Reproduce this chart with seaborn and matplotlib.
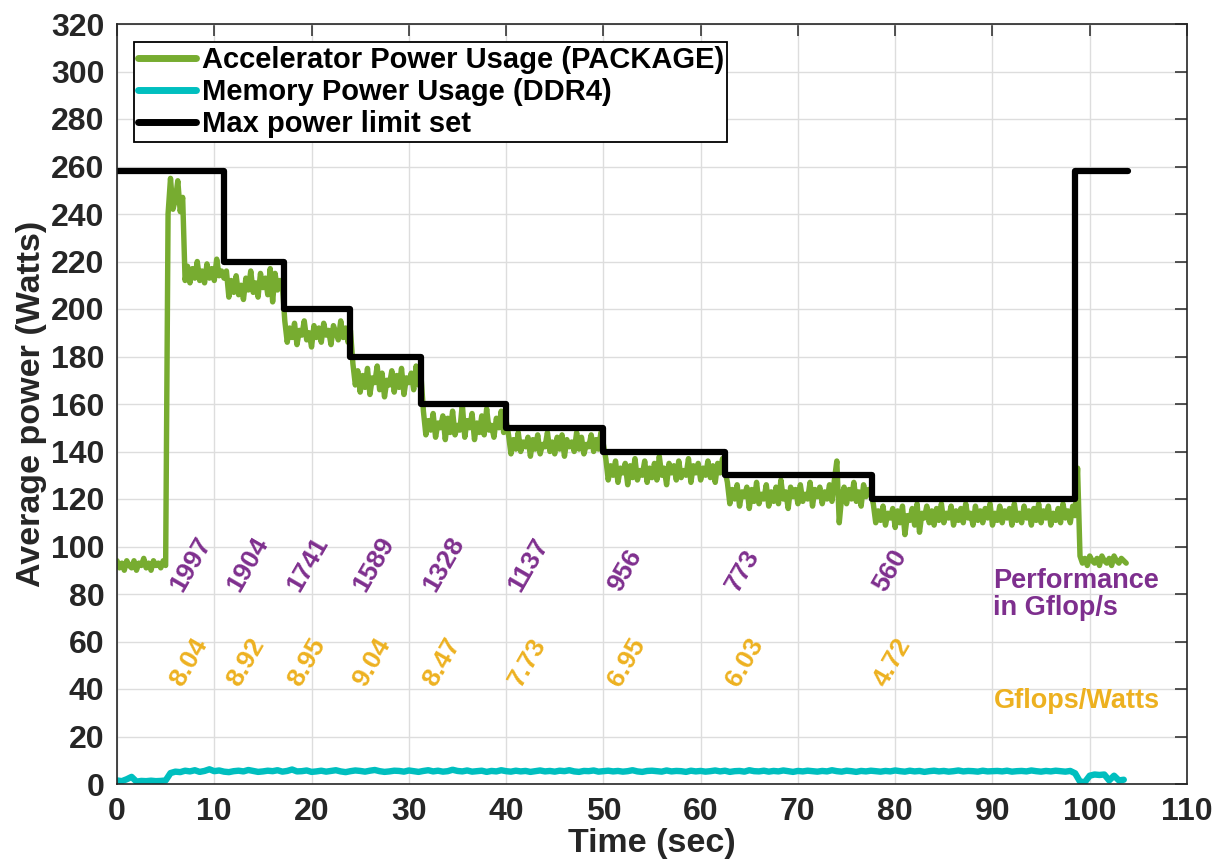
import numpy as np
import pandas as pd
import matplotlib
matplotlib.use("Agg")
import matplotlib.pyplot as plt
from matplotlib.font_manager import FontProperties
import seaborn as sns

# ---------------- data ----------------
# Accelerator package power, sampled every 0.25 s (segments follow the power-limit steps)
acc_idle = [94, 91, 93, 90, 94, 92, 91, 94, 90, 93,
            92, 95, 91, 93, 90, 94, 92, 93, 91, 94, 92]
acc_boost = [240, 255, 242, 246, 254, 241, 247]
acc_258 = [212, 218, 211, 217, 213, 220, 212, 216, 211, 219,
           213, 217, 212, 221, 214, 216, 213]
acc_220 = [216, 205, 212, 207, 214, 206, 210, 204, 213, 208,
           216, 207, 211, 205, 215, 209, 213, 206, 217, 203,
           215, 208, 212, 210]
acc_200 = [195, 186, 192, 188, 194, 185, 191, 189, 195, 187,
           190, 184, 193, 188, 192, 186, 194, 189, 191, 185,
           193, 190, 187, 195, 188, 192, 186, 191]
acc_180 = [177, 168, 174, 165, 172, 167, 175, 164, 171, 169,
           176, 166, 173, 163, 170, 168, 174, 165, 172, 167,
           175, 164, 171, 169, 173, 166, 176, 168, 172]
acc_160 = [157, 147, 153, 149, 156, 146, 152, 150, 155, 145,
           154, 148, 157, 147, 151, 149, 160, 146, 153, 150,
           156, 145, 152, 148, 155, 147, 158, 149, 151, 146,
           154, 150, 157, 148, 153]
acc_150 = [147, 139, 145, 141, 148, 140, 144, 142, 146, 138,
           145, 141, 147, 139, 143, 142, 148, 140, 144, 139,
           146, 141, 147, 138, 145, 142, 144, 140, 148, 141,
           146, 139, 143, 142, 147, 140, 145, 141, 148, 143]
acc_140 = [137, 128, 134, 130, 136, 127, 133, 131, 135, 126,
           134, 129, 137, 128, 132, 130, 136, 127, 133, 129,
           135, 128, 138, 130, 133, 126, 135, 131, 134, 128,
           136, 129, 132, 130, 137, 127, 134, 131, 135, 128,
           133, 130, 136, 129, 134, 127, 135, 131, 137, 132]
acc_130 = [127, 118, 124, 120, 126, 117, 123, 121, 125, 116,
           124, 119, 127, 118, 122, 120, 126, 117, 123, 119,
           125, 118, 128, 120, 123, 116, 125, 121, 124, 118,
           126, 119, 122, 120, 127, 117, 124, 121, 125, 118,
           123, 120, 126, 119, 128, 136, 110, 121, 125, 118,
           124, 120, 127, 119, 123, 117, 126, 121, 124, 122]
acc_120 = [118, 110, 115, 111, 117, 109, 114, 112, 116, 108,
           115, 110, 117, 105, 113, 111, 116, 109, 118, 106,
           114, 112, 117, 110, 115, 109, 116, 111, 118, 110,
           114, 112, 117, 109, 115, 111, 116, 110, 118, 112,
           114, 109, 117, 111, 115, 110, 116, 112, 118, 109,
           114, 111, 117, 110, 115, 112, 116, 109, 118, 111,
           114, 110, 117, 112, 115, 109, 116, 111, 118, 110,
           115, 112, 117, 109, 114, 111, 116, 110, 118, 112,
           115, 110, 117, 113]
acc_tail = [133, 96, 93, 95, 92, 96, 94, 93, 95, 92,
            96, 94, 93, 95, 92, 96, 94, 93, 95, 94, 93]
acc_dt = 0.25

# Memory (DDR4) power, sampled every 0.5 s
mem_idle = [1.5, 1.2, 2.0, 3.0, 1.0, 1.3, 1.2, 1.4, 1.2, 1.3, 1.5]
mem_run = [4.6, 5.2, 5.0, 5.6, 5.3, 5.8, 5.1, 5.5, 6.2, 5.4,
           5.7, 5.2, 5.0, 5.4, 5.6, 5.3, 5.9, 5.5, 5.1, 5.3,
           5.6, 5.4, 5.8, 5.2, 5.5, 6.1, 5.3, 5.4, 5.7, 5.1,
           5.3, 5.6, 5.2, 5.5, 5.8, 5.3, 5.0, 5.4, 5.7, 5.5,
           5.2, 5.6, 5.9, 5.4, 5.1, 5.3, 5.6, 5.5, 5.2, 5.7,
           5.4, 5.1, 5.5, 5.8, 5.3, 5.6, 5.2, 5.4, 6.0, 5.5,
           5.3, 5.7, 5.2, 5.4, 5.6, 5.1, 5.5, 5.3, 5.8, 5.4,
           5.2, 5.6, 5.3, 5.5, 5.1, 5.4, 5.7, 5.3, 5.5, 5.2,
           5.6, 5.4, 5.8, 5.3, 5.1, 5.5, 5.4, 5.7, 5.2, 5.4,
           5.6, 5.3, 5.5, 5.2, 5.4, 5.8, 5.3, 5.1, 5.5, 5.6,
           5.4, 5.2, 5.7, 5.3, 5.5, 5.4, 5.1, 5.6, 5.3, 5.5,
           5.2, 5.4, 5.7, 5.3, 5.6, 5.1, 5.4, 5.5, 5.2, 5.8,
           5.4, 5.3, 5.6, 5.2, 5.5, 5.3, 5.7, 5.4, 5.1, 5.5,
           5.3, 5.6, 5.4, 5.2, 5.5, 5.3, 5.8, 5.4, 5.2, 5.6,
           5.4, 5.1, 5.5, 5.3, 5.6, 5.4, 5.2, 5.5, 5.3, 5.7,
           5.4, 5.2, 5.6, 5.3, 5.5, 5.1, 5.4, 5.6, 5.3, 5.5,
           5.2, 5.4, 5.7, 5.3, 5.5, 5.4, 5.2, 5.6, 5.3, 5.4,
           5.5, 5.3, 5.6, 5.2, 5.4, 5.5, 5.3, 5.7, 5.4, 5.2,
           5.5, 5.3, 5.6, 5.4, 5.2, 5.5]
mem_tail = [4.5, 1.0, 0.8, 3.5, 4.0, 3.8, 4.0, 1.5, 3.5, 1.5, 1.8]
mem_dt = 0.5

# Power limit steps (start time of each level)
limit_time = [0, 11.0, 17.2, 24.0, 31.3, 40.0, 50.0, 62.5, 77.6, 98.5, 103.9]
limit_watts = [258, 220, 200, 180, 160, 150, 140, 130, 120, 258, 258]

# Annotations per power-limit phase
phase_x = [5.0, 10.9, 17.1, 23.8, 31.0, 39.8, 50.0, 62.1, 77.3]
perf_gflops = [1997, 1904, 1741, 1589, 1328, 1137, 956, 773, 560]
gflops_per_watt = [8.04, 8.92, 8.95, 9.04, 8.47, 7.73, 6.95, 6.03, 4.72]

# ---------------- frames ----------------
acc_power = (acc_idle + acc_boost + acc_258 + acc_220 + acc_200 + acc_180 +
             acc_160 + acc_150 + acc_140 + acc_130 + acc_120 + acc_tail)
acc_df = pd.DataFrame({"t": np.arange(len(acc_power)) * acc_dt, "w": acc_power})
mem_power = mem_idle + mem_run + mem_tail
mem_df = pd.DataFrame({"t": np.arange(len(mem_power)) * mem_dt, "w": mem_power})
lim_df = pd.DataFrame({"t": limit_time, "w": limit_watts})

# ---------------- style ----------------
sns.set_style("white")
plt.rcParams["font.family"] = ["Liberation Sans", "DejaVu Sans"]

GREEN = "#77AC30"
CYAN = "#00BFBF"
PURPLE = "#7E2F8E"
ORANGE = "#EDB120"
DARK = "#262626"

fig = plt.figure(figsize=(12.16, 8.65), dpi=100)
ax = fig.add_axes([117 / 1216, 1 - 784 / 865, 1070 / 1216, 760 / 865])

sns.lineplot(data=acc_df, x="t", y="w", ax=ax, color=GREEN, linewidth=3.9,
             estimator=None, sort=False, label="Accelerator Power Usage (PACKAGE)")
sns.lineplot(data=mem_df, x="t", y="w", ax=ax, color=CYAN, linewidth=4.6,
             estimator=None, sort=False, label="Memory Power Usage (DDR4)")
sns.lineplot(data=lim_df, x="t", y="w", ax=ax, color="black", linewidth=4.5,
             estimator=None, sort=False, drawstyle="steps-post",
             label="Max power limit set")

for x, p in zip(phase_x, perf_gflops):
    ax.text(x, 79.5, f"{p}", rotation=60, ha="left", va="bottom",
            color=PURPLE, fontsize=19, fontweight="bold")
for x, e in zip(phase_x, gflops_per_watt):
    ax.text(x, 39.5, f"{e:.2f}", rotation=60, ha="left", va="bottom",
            color=ORANGE, fontsize=19, fontweight="bold")

ax.text(90.1, 82.6, "Performance", color=PURPLE, fontsize=19.5,
        fontweight="bold", ha="left", va="baseline")
ax.text(90.1, 71.0, "in Gflop/s", color=PURPLE, fontsize=19.5,
        fontweight="bold", ha="left", va="baseline")
ax.text(90.1, 31.8, "Gflops/Watts", color=ORANGE, fontsize=19.5,
        fontweight="bold", ha="left", va="baseline")

ax.set_xlim(0, 110)
ax.set_ylim(0, 320)
ax.set_xticks(np.arange(0, 111, 10))
ax.set_yticks(np.arange(0, 321, 20))
ax.grid(True, color="#dddddd", linewidth=1.0)
ax.set_axisbelow(True)
for s in ax.spines.values():
    s.set_visible(True)
    s.set_color(DARK)
    s.set_linewidth(1.2)
ax.tick_params(axis="both", which="both", direction="in", top=True, right=True,
               length=8.5, width=1.1, color=DARK, labelsize=23, labelcolor=DARK)
ax.tick_params(axis="y", pad=9)
ax.tick_params(axis="x", pad=9)
for lbl in ax.get_xticklabels() + ax.get_yticklabels():
    lbl.set_fontweight("bold")

ax.set_xlabel("Time (sec)", fontsize=24.5, fontweight="bold", color=DARK, labelpad=1)
ax.set_ylabel("Average power (Watts)", fontsize=24.5, fontweight="bold", color=DARK, labelpad=3)

leg_font = FontProperties(family="Liberation Sans", weight="bold", size=21)
leg = ax.legend(loc="upper left", bbox_to_anchor=(0.0159, 0.976), borderaxespad=0,
                frameon=True, fancybox=False, framealpha=1, edgecolor="black",
                prop=leg_font, handlelength=2.0, handletextpad=0.2,
                labelspacing=0.15, borderpad=0.12)
leg.get_frame().set_linewidth(1.3)
for line in leg.get_lines():
    line.set_linewidth(5.0)
for t in leg.get_texts():
    t.set_fontweight("bold")
    t.set_color("black")

fig.savefig("out.png", dpi=100)
